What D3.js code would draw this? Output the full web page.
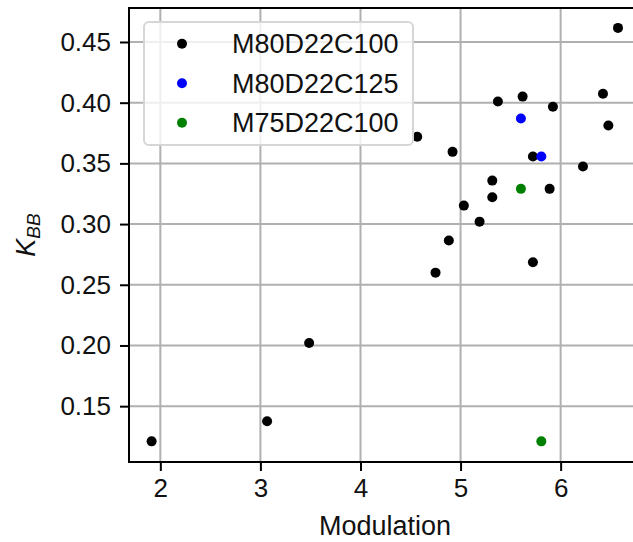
<!DOCTYPE html>
<html>
<head>
<meta charset="utf-8">
<script src="https://cdn.jsdelivr.net/npm/d3@7"></script>
<style>
  body { margin: 0; background: #fff; }
  text { font-family: "Liberation Sans", Arial, sans-serif; }
</style>
</head>
<body>
<svg id="chart" width="633" height="542"></svg>
<script>
// values
const seriesNames = ['M80D22C100', 'M80D22C125', 'M75D22C100'];
const seriesColors = ['#000000', '#0000ff', '#008000'];

const m80c100Mod = [1.913, 3.067, 3.487, 4.75, 4.883, 5.723, 6.573, 5.373, 5.62, 5.923, 6.423,
  6.477, 4.567, 4.92, 5.723, 6.223, 5.317, 5.89, 5.317, 5.033, 5.19];
const m80c100K = [0.121, 0.1375, 0.202, 0.260, 0.2865, 0.2685, 0.4616, 0.401, 0.405, 0.3966, 0.4073,
  0.3812, 0.3719, 0.3595, 0.3556, 0.3474, 0.3358, 0.329, 0.3221, 0.3152, 0.302];

const m80c125Mod = [5.603, 5.807];
const m80c125K = [0.387, 0.3556];

const m75c100Mod = [5.603, 5.807];
const m75c100K = [0.329, 0.121];

const xTicks = [2, 3, 4, 5, 6];
const yTicks = [0.15, 0.20, 0.25, 0.30, 0.35, 0.40, 0.45];

const series = [
  { mod: m80c100Mod, k: m80c100K },
  { mod: m80c125Mod, k: m80c125K },
  { mod: m75c100Mod, k: m75c100K },
];

const plotLeft = 129, plotTop = 8, plotRight = 642, plotBottom = 462;
const textColor = '#111';

const svg = d3.select('#chart');

const x = d3.scaleLinear().domain([1.687, 6.813]).range([plotLeft, plotRight]);
const y = d3.scaleLinear().domain([0.104, 0.478]).range([plotBottom, plotTop]);

// grid
svg.append('g')
  .selectAll('line')
  .data(xTicks)
  .join('line')
  .attr('x1', d => x(d)).attr('x2', d => x(d))
  .attr('y1', plotTop).attr('y2', plotBottom)
  .attr('stroke', '#b0b0b0').attr('stroke-width', 2);

svg.append('g')
  .selectAll('line')
  .data(yTicks)
  .join('line')
  .attr('x1', plotLeft).attr('x2', plotRight)
  .attr('y1', d => y(d)).attr('y2', d => y(d))
  .attr('stroke', '#b0b0b0').attr('stroke-width', 2);

// axes
const xAxis = svg.append('g')
  .attr('transform', `translate(0,${plotBottom})`)
  .call(d3.axisBottom(x).tickValues(xTicks).tickSize(9).tickPadding(8).tickFormat(d3.format('d')));

const yAxis = svg.append('g')
  .attr('transform', `translate(${plotLeft},0)`)
  .call(d3.axisLeft(y).tickValues(yTicks).tickSize(9).tickPadding(9).tickFormat(d3.format('.2f')));

[xAxis, yAxis].forEach(a => {
  a.select('.domain').remove();
  a.selectAll('line').attr('stroke', '#000').attr('stroke-width', 2);
  a.selectAll('text').attr('font-size', 26).attr('fill', textColor)
    .style('font-family', '"Liberation Sans", Arial, sans-serif');
});

// spines
svg.append('line').attr('x1', plotLeft).attr('x2', plotLeft).attr('y1', plotTop).attr('y2', plotBottom)
  .attr('stroke', '#000').attr('stroke-width', 2);
svg.append('line').attr('x1', plotLeft - 1).attr('x2', plotRight).attr('y1', plotBottom).attr('y2', plotBottom)
  .attr('stroke', '#000').attr('stroke-width', 2);
svg.append('line').attr('x1', plotLeft - 1).attr('x2', plotRight).attr('y1', plotTop).attr('y2', plotTop)
  .attr('stroke', '#000').attr('stroke-width', 2);

// points
series.forEach((s, i) => {
  svg.append('g')
    .selectAll('circle')
    .data(s.mod.map((m, j) => [m, s.k[j]]))
    .join('circle')
    .attr('cx', d => x(d[0]))
    .attr('cy', d => y(d[1]))
    .attr('r', 5)
    .attr('fill', seriesColors[i]);
});

// axis labels
svg.append('text')
  .attr('x', 385).attr('y', 535)
  .attr('text-anchor', 'middle')
  .attr('font-size', 27).attr('fill', textColor)
  .text('Modulation');

const yl = svg.append('text')
  .attr('transform', `translate(35,${(plotTop + plotBottom) / 2}) rotate(-90)`)
  .attr('text-anchor', 'middle')
  .attr('font-size', 27).attr('fill', textColor);
yl.append('tspan').attr('font-style', 'italic').text('K');
yl.append('tspan').attr('font-size', 19).attr('font-style', 'italic').attr('dy', 5).text('BB');

// legend
const legend = svg.append('g');
legend.append('rect')
  .attr('x', 144).attr('y', 22).attr('width', 269).attr('height', 123)
  .attr('rx', 5)
  .attr('fill', 'rgba(255,255,255,0.8)')
  .attr('stroke', '#d6d6d6').attr('stroke-width', 2);

const rows = legend.selectAll('g.row')
  .data(seriesNames)
  .join('g')
  .attr('class', 'row')
  .attr('transform', (d, i) => `translate(0,${43.7 + i * 39.5})`);
rows.append('circle').attr('cx', 182).attr('cy', 0).attr('r', 5)
  .attr('fill', (d, i) => seriesColors[i]);
rows.append('text').attr('x', 232).attr('y', 9.5)
  .attr('font-size', 27).attr('fill', textColor)
  .text(d => d);
</script>
</body>
</html>
